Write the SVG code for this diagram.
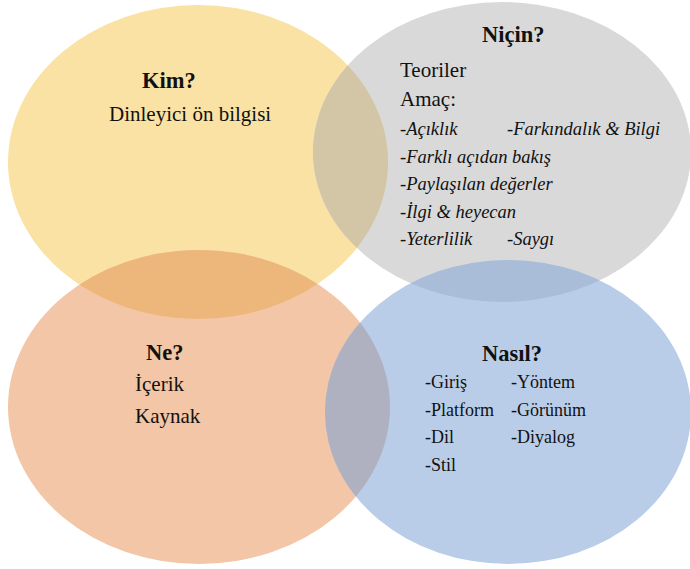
<svg xmlns="http://www.w3.org/2000/svg" width="690" height="569" viewBox="0 0 690 569">
<style>
text{font-family:"Liberation Serif","Times New Roman",serif;fill:#111}
.t{font-weight:bold;font-size:22.5px}
.r{font-size:21px;font-weight:normal}
.i{font-style:italic;font-size:18.5px}
.s{font-size:18px}
</style>
<defs>
<ellipse id="eY" cx="198" cy="162" rx="190" ry="157"/>
<ellipse id="eG" cx="502" cy="152" rx="189" ry="150"/>
<ellipse id="eO" cx="199" cy="407" rx="191" ry="157"/>
<ellipse id="eB" cx="508" cy="412" rx="183" ry="152"/>
<clipPath id="cY"><use href="#eY"/></clipPath>
<clipPath id="cO"><use href="#eO"/></clipPath>
<clipPath id="cB"><use href="#eB"/></clipPath>
</defs>
<rect width="690" height="569" fill="#fff"/>
<g id="kim">
<use href="#eY" fill="#FAE2A5"/>
</g>
<g id="nicin">
<use href="#eG" fill="#D9D9D9"/>
</g>
<g id="ne">
<use href="#eO" fill="#F2C6A6"/>
</g>
<g id="nasil">
<use href="#eB" fill="#B9CDE8"/>
</g>
<g id="overlaps">
<use href="#eG" clip-path="url(#cY)" fill="#D3C6A7"/>
<use href="#eY" clip-path="url(#cO)" fill="#EDB77C"/>
<use href="#eG" clip-path="url(#cB)" fill="#A9BDD8"/>
<use href="#eO" clip-path="url(#cB)" fill="#AFB1C1"/>
</g>
<g id="kim-text">
<text class="t" x="142" y="88">Kim?</text>
<text class="r" x="109" y="121">Dinleyici ön bilgisi</text>
</g>
<g id="nicin-text">
<text class="t" x="482" y="42">Niçin?</text>
<text class="r" x="400" y="77">Teoriler</text>
<text class="r" x="400" y="106">Amaç:</text>
<text class="i" x="400" y="135">-Açıklık</text>
<text class="i" x="507" y="135">-Farkındalık &amp; Bilgi</text>
<text class="i" x="400" y="163">-Farklı açıdan bakış</text>
<text class="i" x="400" y="190">-Paylaşılan değerler</text>
<text class="i" x="400" y="218">-İlgi &amp; heyecan</text>
<text class="i" x="400" y="245">-Yeterlilik</text>
<text class="i" x="507" y="245">-Saygı</text>
</g>
<g id="ne-text">
<text class="t" x="146" y="360">Ne?</text>
<text class="r" x="135" y="391">İçerik</text>
<text class="r" x="135" y="423">Kaynak</text>
</g>
<g id="nasil-text">
<text class="t" x="482" y="361">Nasıl?</text>
<text class="s" x="425" y="388">-Giriş</text>
<text class="s" x="511" y="388">-Yöntem</text>
<text class="s" x="425" y="416">-Platform</text>
<text class="s" x="511" y="416">-Görünüm</text>
<text class="s" x="425" y="443">-Dil</text>
<text class="s" x="511" y="443">-Diyalog</text>
<text class="s" x="425" y="471">-Stil</text>
</g>
</svg>
